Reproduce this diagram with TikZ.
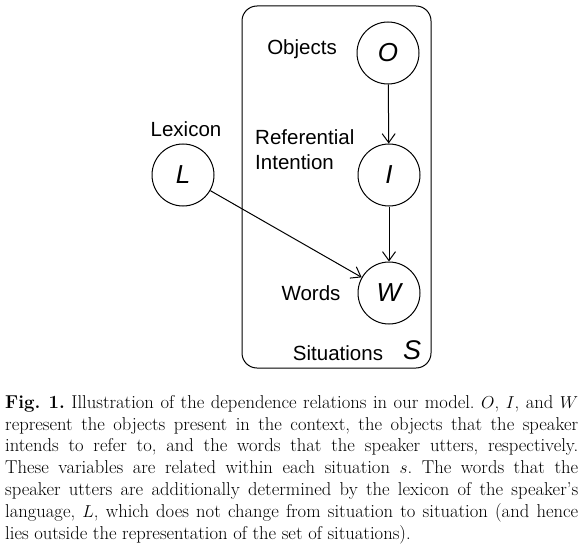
\documentclass[tikz,border=0pt]{standalone}
\usepackage{fontspec}
\newfontfamily\diagfont{Liberation Sans}
\usetikzlibrary{arrows.meta}
\begin{document}
\begin{tikzpicture}[x=1pt,y=-1pt,
		var/.style={circle,draw,line width=1pt,minimum size=62pt,inner sep=0pt,font=\diagfont\itshape\fontsize{26}{26}\selectfont},
		lbl/.style={font=\diagfont\fontsize{20.5}{25}\selectfont,inner sep=0pt},
		dep/.style={line width=1pt,-{Straight Barb[length=9pt,width=13pt]}}]
		\useasboundingbox (0,0) rectangle (580,548);
		% plate
		\draw[rounded corners=15pt,line width=1pt] (242,6) rectangle (431,368);
		\node [var] (O) at (388,53) {O};
		\node [var] (I) at (389,175) {I};
		\node [var] (W) at (389,293) {W};
		\node [var] (L) at (183,175) {L};
		\node [lbl] (objects) at (302,49) {Objects};
		\node [lbl] (lexicon) at (186,129) {Lexicon};
		\node [lbl,align=left,anchor=west] (intention) at (255,150) {Referential\\Intention};
		\node [lbl] (words) at (311,293) {Words};
		\node [lbl] (situations) at (338,353) {Situations};
		\node [font=\diagfont\itshape\fontsize{27}{27}\selectfont,inner sep=0pt] (S) at (412,350) {S};
		\draw [dep] (O) -- (I);
		\draw [dep] (I) -- (W);
		\draw [dep] (L) -- (W);
		% caption
		\node [anchor=north west,inner sep=0pt,text width=573pt,align=justify,
			font=\fontsize{18.6}{21.8}\selectfont] (caption) at (5,395)
		{\tolerance=10000\hyphenpenalty=10000\frenchspacing
			\textbf{Fig.~1.} Illustration of the dependence relations in our model. $O$, $I$, and $W$\linebreak
			represent the objects present in the context, the objects that the speaker\linebreak
			intends to refer to, and the words that the speaker utters, respectively.\linebreak
			These variables are related within each situation $s$. The words that the\linebreak
			speaker utters are additionally determined by the lexicon of the speaker’s\linebreak
			language, $L$, which does not change from situation to situation (and hence\linebreak
			lies outside the representation of the set of situations).};
	\end{tikzpicture}
\end{document}
